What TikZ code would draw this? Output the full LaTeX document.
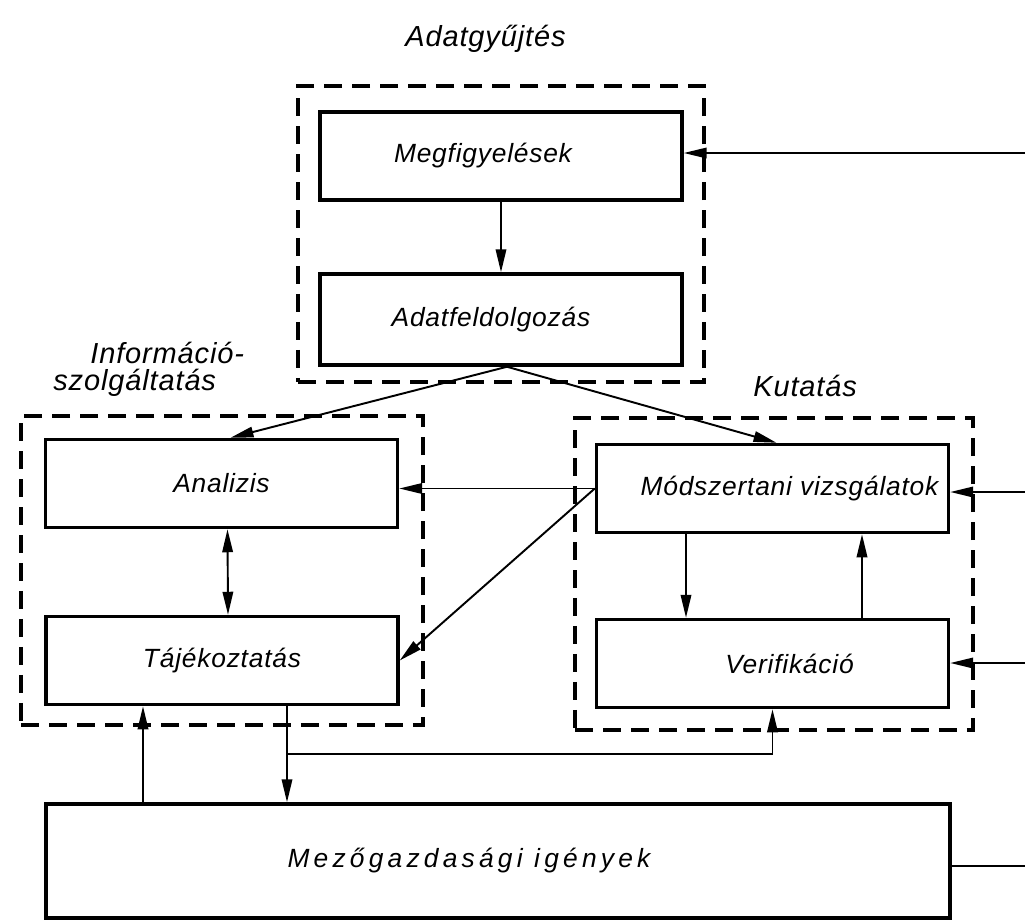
\documentclass[tikz,border=0pt]{standalone}
\usepackage{fontspec}
\setmainfont{Liberation Sans}
\newfontfamily\lettering[LetterSpace=3]{Liberation Sans}
\newfontfamily\widelettering[LetterSpace=16]{Liberation Sans}
\usetikzlibrary{arrows.meta,calc}

\begin{document}
\begin{tikzpicture}[x=0.02cm,y=-0.02cm,
  >={Triangle[length=4.6mm,width=2.1mm]},
  box/.style={draw,line width=2pt,minimum width=7.04cm,minimum height=1.76cm,inner sep=0pt,
    font=\lettering\itshape\fontsize{15}{18}\selectfont},
  group/.style={draw,line width=1.8pt,dash pattern=on 0.36cm off 0.2cm,inner sep=0pt},
  title/.style={anchor=base west,inner sep=0pt,font=\lettering\itshape\fontsize{16.5}{19}\selectfont},
  conn/.style={line width=1.1pt,->}]
\useasboundingbox (0,0) rectangle (1025,920);

\node[group,minimum width=8.12cm,minimum height=5.92cm] (gyujt) at (501,234) {};
\node[group,minimum width=8.04cm,minimum height=6.18cm] (info) at (222,570.5) {};
\node[group,minimum width=7.96cm,minimum height=6.24cm] (kut) at (774,574) {};

\node[title] (tgyujt) at (405,46) {Adatgyűjtés};
\node[title] (tinfo1) at (90,363) {Információ-};
\node[title] (tinfo2) at (53,390) {szolgáltatás};
\node[title] (tkut) at (753,396) {Kutatás};

\node[box,minimum width=7.24cm] (megf) at (501,156) {Megfigyelések\hspace*{0.72cm}};
\node[box,minimum width=7.24cm,minimum height=1.82cm] (adat) at (501,319.5) {Adatfeldolgozás\hspace*{0.4cm}};
\node[box] (anal) at (221.5,483.5) {Analizis};
\node[box] (taje) at (222,660.5) {Tájékoztatás};
\node[box] (modsz) at (772.5,488.5) {\hspace*{0.68cm}Módszertani vizsgálatok};
\node[box] (veri) at (772.5,663.5) {\hspace*{0.68cm}Verifikáció};
\node[box,minimum width=18.08cm,minimum height=2.28cm,
  font=\widelettering\itshape\fontsize{15}{18}\selectfont] (mezo) at (498,861) {Mezőgazdasági igények\hspace*{1.16cm}};

\coordinate (inmegf) at (1025,153);
\coordinate (inmodsz) at (1025,492);
\coordinate (inveri) at (1025,663);
\coordinate (outmezo) at (1025,866);
\coordinate (split) at ($(adat.south)+(6,0)$);
\coordinate (up) at ($(taje.south)+(-79,0)$);
\coordinate (down) at ($(taje.south)+(65,0)$);
\coordinate (branch) at ($(taje.south)+(65,48)$);

\draw[conn] (megf.south) -- (adat.north);
\draw[conn] (inmegf) -- (inmegf -| megf.east);
\draw[conn] (split) -- ($(anal.north)+(9,0)$);
\draw[conn] (split) -- ($(modsz.north)+(4,0)$);
\draw[conn] (modsz.west) -- (modsz.west -| anal.east);
\draw[conn] (modsz.west) -- (taje.east);
\draw[conn,<->] ($(anal.south)+(6,0)$) -- ($(taje.north)+(6,0)$);
\draw[conn] ($(modsz.south)+(-86.5,0)$) -- ($(veri.north)+(-86.5,0)$);
\draw[conn] ($(veri.north)+(89.5,0)$) -- ($(modsz.south)+(89.5,0)$);
\draw[conn] (inmodsz) -- (inmodsz -| modsz.east);
\draw[conn] (inveri) -- (inveri -| veri.east);
\draw[conn] (up |- mezo.north) -- (up);
\draw[conn] (down) -- (down |- mezo.north);
\draw[conn] (branch) -| (veri.south);
\draw[line width=1.1pt] (outmezo -| mezo.east) -- (outmezo);
\end{tikzpicture}
\end{document}
